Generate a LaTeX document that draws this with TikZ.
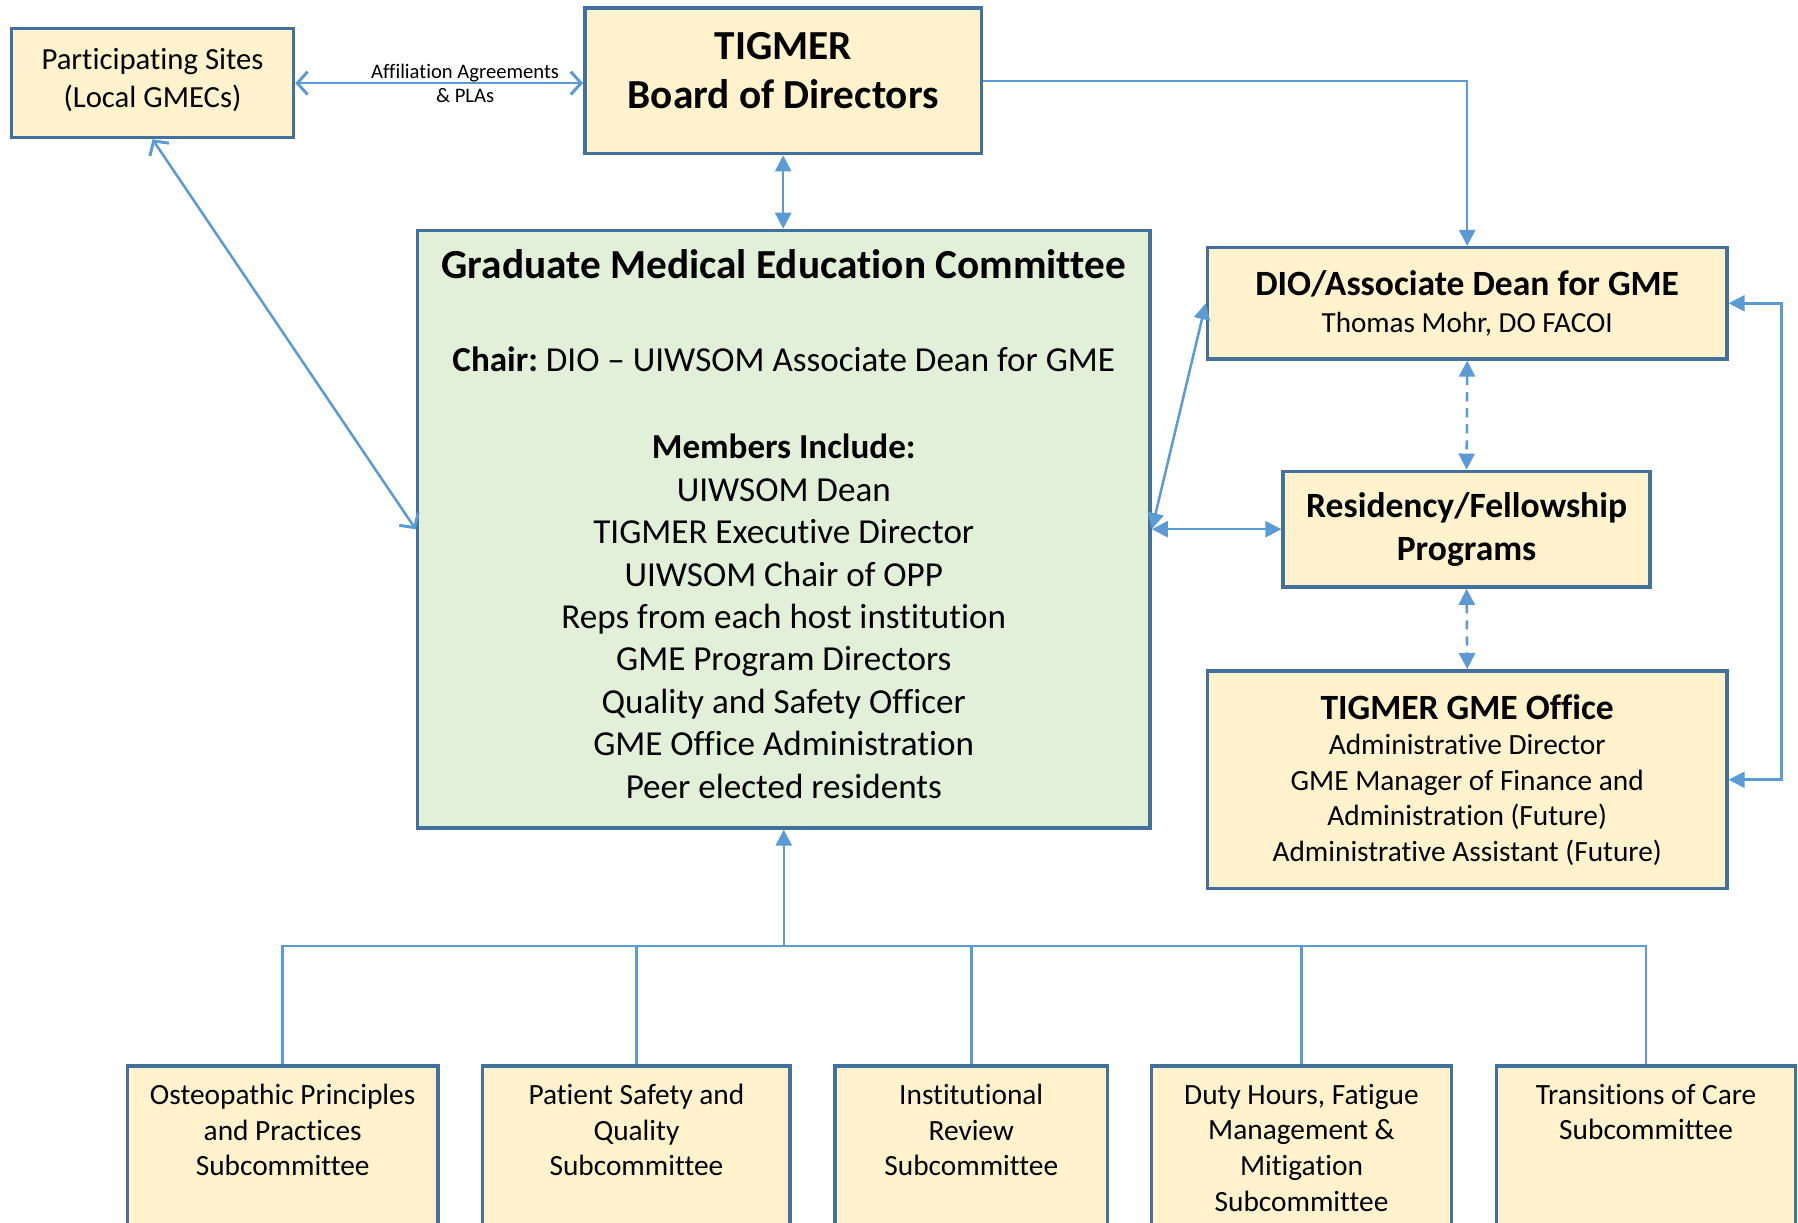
\documentclass[tikz,border=0pt]{standalone}
\usepackage{fontspec}
\setmainfont{Carlito}[Ligatures={TeX,NoCommon}]
\usetikzlibrary{arrows.meta,positioning}
\frenchspacing

\definecolor{boxfill}{HTML}{FFF2CC}
\definecolor{boxline}{HTML}{41719C}
\definecolor{gmecfill}{HTML}{E2F0D9}
\definecolor{linkblue}{HTML}{5B9BD5}

\tikzset{
  orgbox/.style={draw=boxline, line width=1.5pt, fill=boxfill, align=center, inner sep=0pt},
  subbox/.style={orgbox, anchor=north, inner ysep=8pt, text depth=90pt,
    font=\fontsize{12.8}{15.5}\selectfont},
  link/.style={draw=linkblue, line width=1.1pt},
  tip/.style={link, -{Triangle[length=7pt,width=7pt]}},
  tips/.style={link, {Triangle[length=7pt,width=7pt]}-{Triangle[length=7pt,width=7pt]}},
  barbs/.style={link, {Straight Barb[length=4.5pt,width=10pt,line width=1.3pt]}-{Straight Barb[length=4.5pt,width=10pt,line width=1.3pt]}},
  dashlink/.style={tips, dash pattern=on 4pt off 3pt},
}

\begin{document}
\begin{tikzpicture}[x=0.5pt, y=-0.5pt]
  \useasboundingbox (0,0) rectangle (1568,1066);
  \clip (0,0) rectangle (1568,1066);
  % top row
  \node[orgbox, minimum width=123pt, minimum height=47.5pt,
    label={[align=center, yshift=1.5pt, font=\fontsize{13.4}{16.5}\selectfont]center:Participating Sites\\(Local GMECs)}]
    (sites) at (133,72.5) {};
  \node[orgbox, minimum width=173pt, minimum height=63.5pt,
    label={[align=center, yshift=4.5pt, font=\fontsize{18}{21.5}\selectfont\bfseries]center:TIGMER\\Board of Directors}]
    (board) at (683,70.5) {};
  % committee
  \node[orgbox, fill=gmecfill, minimum width=319.5pt, minimum height=260.5pt,
    font=\fontsize{15.3}{18.5}\selectfont] (gmec) at (683.5,461.5)
    {{\fontsize{18}{18.5}\selectfont\bfseries Graduate Medical Education Committee}\\[22pt]
     \textbf{Chair:} DIO – UIWSOM Associate Dean for GME\\[19.5pt]
     \textbf{Members Include:}\\
     UIWSOM Dean\\
     TIGMER Executive Director\\
     UIWSOM Chair of OPP\\
     Reps from each host institution\\
     GME Program Directors\\
     Quality and Safety Officer\\
     GME Office Administration\\
     Peer elected residents\\[-14pt]\mbox{}};
  % right column
  \node[orgbox, minimum width=226.5pt, minimum height=48.5pt,
    font=\fontsize{12.7}{16}\selectfont] (dio) at (1279.5,264.5)
    {{\fontsize{15.5}{17}\selectfont\bfseries DIO/Associate Dean for GME}\\
     Thomas Mohr, DO FACOI};
  \node[orgbox, minimum width=160pt, minimum height=50.5pt,
    font=\fontsize{15.5}{18.7}\selectfont\bfseries] (res) at (1279,461.5)
    {Residency/Fellowship\\Programs};
  \node[orgbox, minimum width=226.5pt, minimum height=95pt,
    font=\fontsize{12.8}{15.5}\selectfont] (office) at (1279.5,680)
    {{\fontsize{15.5}{17}\selectfont\bfseries TIGMER GME Office}\\
     Administrative Director\\
     GME Manager of Finance and\\
     Administration (Future)\\
     Administrative Assistant (Future)};
  % subcommittees
  \foreach \name/\cx/\w/\txt in {
      opp/246.5/135.5/{Osteopathic Principles\\and Practices\\Subcommittee},
      psq/555/134/{Patient Safety and\\Quality\\Subcommittee},
      irs/847/119/{Institutional\\Review\\Subcommittee},
      dhs/1135/131/{Duty Hours, Fatigue\\Management \&\\Mitigation\\Subcommittee},
      toc/1435.5/130.5/{Transitions of Care\\Subcommittee}}
    \node[subbox, minimum width=\w pt] (\name) at (\cx,928) {\txt};

  % connectors
  \draw[barbs] (sites.east) -- (sites.east -| board.west)
    node[pos=0.59, align=center, font=\fontsize{9}{10.5}\selectfont] (affil)
    {Affiliation Agreements\\\& PLAs};
  \draw[barbs] (sites.south) -- (gmec.west);
  \draw[tips] (board.south) -- (board.south |- gmec.north);
  \draw[tip] (board.east) -| (dio.north);
  \draw[tips] (gmec.east) -- (dio.west);
  \draw[tips] (gmec.east) -- (res.west);
  \draw[dashlink] (dio.south) -- (res.north);
  \draw[dashlink] (res.south) -- (office.north);
  \draw[tips] (dio.east) -- ([xshift=23pt]dio.east) |- (office.east);
  \coordinate (bus) at (683.5,825);
  \draw[link] (opp.north) |- (toc.north |- bus) -- (toc.north);
  \foreach \s in {psq,irs,dhs}
    \draw[link] (\s.north) -- (\s.north |- bus);
  \draw[tip] (bus) -- (gmec.south);
\end{tikzpicture}
\end{document}
